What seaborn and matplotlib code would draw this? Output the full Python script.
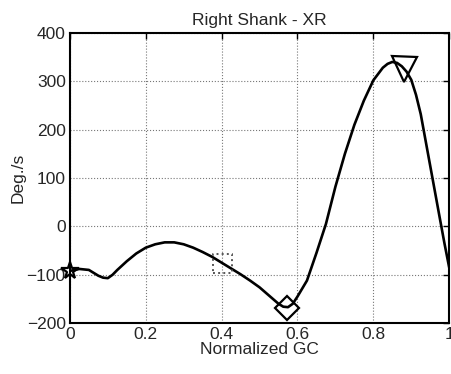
import matplotlib
matplotlib.use("Agg")
import matplotlib.pyplot as plt
import seaborn as sns
import pandas as pd

# curve (normalized gait cycle vs angular velocity)
gc = [0.000, 0.025, 0.050, 0.075, 0.0875, 0.100, 0.1125, 0.125, 0.150, 0.175,
      0.200, 0.225, 0.250, 0.275, 0.300, 0.325, 0.350, 0.375, 0.400, 0.425,
      0.450, 0.475, 0.500, 0.525, 0.550, 0.5625, 0.575, 0.5875, 0.600, 0.625,
      0.650, 0.675, 0.700, 0.725, 0.750, 0.775, 0.800, 0.825, 0.8375, 0.850,
      0.8625, 0.875, 0.8875, 0.900, 0.9125, 0.925, 0.950, 0.975, 0.9875, 1.000]
deg_s = [-92, -88, -90, -102, -106, -107, -100, -90, -72, -56,
         -44, -37, -33, -33, -37, -44, -53, -63, -75, -87,
         -99, -112, -126, -143, -160, -166, -167, -160, -145, -112,
         -55, 5, 82, 150, 210, 260, 302, 328, 336, 340,
         338, 331, 320, 303, 272, 232, 125, 18, -35, -85]

# event markers
star_pt = (0.0, -92)
square_pt = (0.403, -77)
diamond_pt = (0.573, -168)
triangle_pt = (0.88, 325)

xticks = [0, 0.2, 0.4, 0.6, 0.8, 1]
xticklabels = ["0", "0.2", "0.4", "0.6", "0.8", "1"]
yticks = [-200, -100, 0, 100, 200, 300, 400]

sns.set_theme(style="white")
plt.rcParams["font.family"] = ["Liberation Sans", "DejaVu Sans"]
plt.rcParams["xtick.direction"] = "in"
plt.rcParams["ytick.direction"] = "in"

df = pd.DataFrame({"gc": gc, "deg": deg_s})

fig = plt.figure(figsize=(4.51, 3.74), dpi=100)
ax = fig.add_axes([0.155, 0.136, 0.841, 0.776])

sns.lineplot(data=df, x="gc", y="deg", color="black", linewidth=1.9, ax=ax)

ax.plot(*star_pt, marker="*", markersize=13, markerfacecolor="none",
        markeredgecolor="black", markeredgewidth=1.6, clip_on=False)
ax.scatter(*square_pt, marker="s", s=13.5 ** 2, facecolor="none",
           edgecolor="#555555", linewidth=1.4, linestyle=":", zorder=3)
ax.plot(*diamond_pt, marker="D", markersize=12.5, markerfacecolor="none",
        markeredgecolor="black", markeredgewidth=1.6, clip_on=False)
ax.plot(*triangle_pt, marker="v", markersize=18, markerfacecolor="none",
        markeredgecolor="black", markeredgewidth=1.6)

ax.set_xlim(0, 1)
ax.set_ylim(-200, 400)
ax.set_xticks(xticks)
ax.set_xticklabels(xticklabels)
ax.set_yticks(yticks)
ax.tick_params(labelsize=12.5, length=4, width=1, color="black", pad=3,
               top=True, right=True)
ax.grid(True, linestyle=":", color="#777777", linewidth=0.8)
for s in ax.spines.values():
    s.set_color("black")
    s.set_linewidth(1.5)

ax.set_title("Right Shank - XR", fontsize=12.5, pad=6)
ax.set_xlabel("Normalized GC", fontsize=12.5, labelpad=0)
ax.set_ylabel("Deg./s", fontsize=12.5, labelpad=1)

fig.savefig("out.png", dpi=100)
